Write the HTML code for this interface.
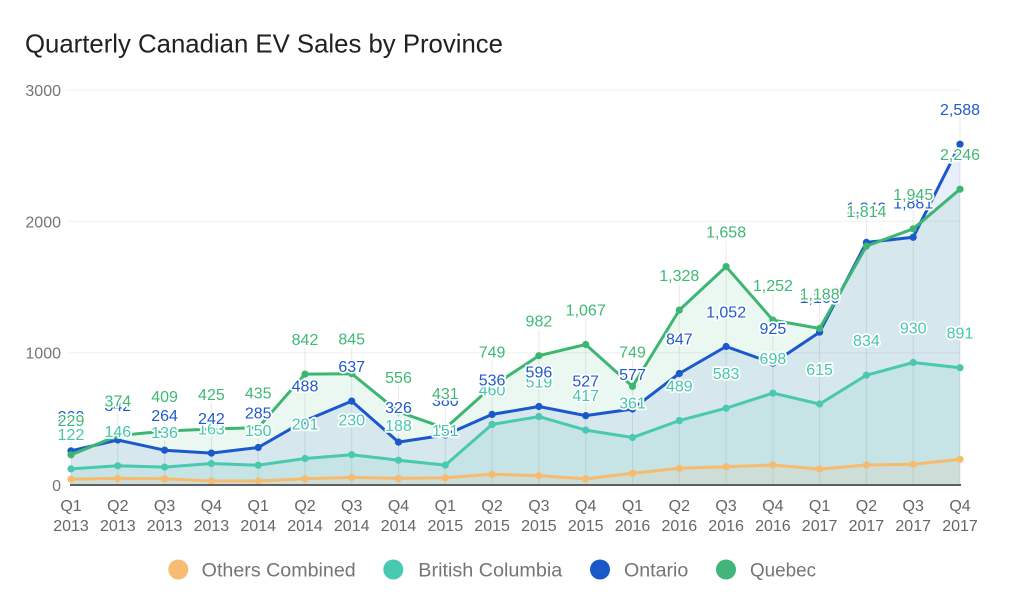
<!DOCTYPE html>
<html><head><meta charset="utf-8"><style>
html,body{margin:0;padding:0;background:#fff;}
svg{display:block;}
text{font-family:"Liberation Sans",Arial,sans-serif;}
.ax{font-size:16px;fill:#757575;}
.xl{font-size:16px;fill:#666;text-anchor:middle;}
.lb{font-size:16px;text-anchor:middle;stroke:#fff;stroke-width:3.5px;paint-order:stroke;stroke-linejoin:round;}
.bc{fill:#45c7ad;} .on{fill:#1f5bcc;} .qc{fill:#3fb873;}
.lg{font-size:19px;fill:#757575;}
</style></head><body>
<svg width="1024" height="616" viewBox="0 0 1024 616" xmlns="http://www.w3.org/2000/svg">
<defs>
<marker id="mq" markerUnits="userSpaceOnUse" markerWidth="10" markerHeight="10" refX="5" refY="5"><circle cx="5" cy="5" r="3.6" fill="#3db673"/></marker>
<marker id="mo" markerUnits="userSpaceOnUse" markerWidth="10" markerHeight="10" refX="5" refY="5"><circle cx="5" cy="5" r="3.6" fill="#1a58cc"/></marker>
<marker id="mb" markerUnits="userSpaceOnUse" markerWidth="10" markerHeight="10" refX="5" refY="5"><circle cx="5" cy="5" r="3.6" fill="#48c9b0"/></marker>
<marker id="mx" markerUnits="userSpaceOnUse" markerWidth="10" markerHeight="10" refX="5" refY="5"><circle cx="5" cy="5" r="3.6" fill="#f6bb6f"/></marker>
</defs>
<rect width="1024" height="616" fill="#fff"/>
<text x="25" y="52.7" font-size="26" fill="#212121" textLength="478" lengthAdjust="spacingAndGlyphs">Quarterly Canadian EV Sales by Province</text>

<!-- grid -->
<g stroke="#f0f0f0" stroke-width="1">
<line x1="68" y1="90" x2="961" y2="90"/>
<line x1="68" y1="221.3" x2="961" y2="221.3"/>
<line x1="68" y1="352.7" x2="961" y2="352.7"/>
</g>
<g class="ax" text-anchor="end">
<text x="61" y="96">3000</text>
<text x="61" y="227.3">2000</text>
<text x="61" y="358.7">1000</text>
<text x="61" y="491">0</text>
</g>

<!-- leader lines -->
<g stroke="#000" stroke-opacity="0.09" stroke-width="1">
<line x1="71" y1="425" x2="71" y2="485"/>
<line x1="117.8" y1="410" x2="117.8" y2="485"/>
<line x1="164.6" y1="405" x2="164.6" y2="485"/>
<line x1="211.4" y1="403" x2="211.4" y2="485"/>
<line x1="258.2" y1="402" x2="258.2" y2="485"/>
<line x1="305" y1="348" x2="305" y2="485"/>
<line x1="351.7" y1="348" x2="351.7" y2="485"/>
<line x1="398.5" y1="386" x2="398.5" y2="485"/>
<line x1="445.3" y1="402" x2="445.3" y2="485"/>
<line x1="492.1" y1="360" x2="492.1" y2="485"/>
<line x1="538.9" y1="330" x2="538.9" y2="485"/>
<line x1="585.7" y1="319" x2="585.7" y2="485"/>
<line x1="632.5" y1="360" x2="632.5" y2="485"/>
<line x1="679.3" y1="284" x2="679.3" y2="485"/>
<line x1="726.1" y1="241" x2="726.1" y2="485"/>
<line x1="772.9" y1="294" x2="772.9" y2="485"/>
<line x1="819.6" y1="303" x2="819.6" y2="485"/>
<line x1="866.4" y1="217" x2="866.4" y2="485"/>
<line x1="913.2" y1="203" x2="913.2" y2="485"/>
<line x1="960" y1="118" x2="960" y2="485"/>
</g>

<!-- areas -->
<polygon fill="#3db673" fill-opacity="0.1" points="71,454.8 117.8,435.7 164.6,431.1 211.4,429.0 258.2,427.7 305.0,374.1 351.7,373.7 398.5,411.8 445.3,428.2 492.1,386.4 538.9,355.7 585.7,344.5 632.5,386.4 679.3,310.1 726.1,266.6 772.9,320.1 819.6,328.5 866.4,246.1 913.2,228.8 960,189.2 960,485 71,485"/>
<polygon fill="#1a58cc" fill-opacity="0.1" points="71,450.8 117.8,440.0 164.6,450.2 211.4,453.1 258.2,447.5 305.0,420.7 351.7,401.1 398.5,442.1 445.3,435.0 492.1,414.4 538.9,406.5 585.7,415.6 632.5,409.0 679.3,373.5 726.1,346.5 772.9,363.2 819.6,332.2 866.4,242.4 913.2,237.3 960,144.2 960,485 71,485"/>
<polygon fill="#48c9b0" fill-opacity="0.11" points="71,468.9 117.8,465.8 164.6,467.1 211.4,463.5 258.2,465.2 305.0,458.5 351.7,454.7 398.5,460.2 445.3,465.1 492.1,424.4 538.9,416.6 585.7,430.1 632.5,437.5 679.3,420.6 726.1,408.2 772.9,393.1 819.6,404.0 866.4,375.2 913.2,362.5 960,367.7 960,485 71,485"/>
<polygon fill="#f6bb6f" fill-opacity="0.12" points="71,479.1 117.8,478.4 164.6,478.7 211.4,481.0 258.2,481.0 305.0,478.7 351.7,477.4 398.5,478.4 445.3,477.8 492.1,474.3 538.9,475.6 585.7,478.9 632.5,473.3 679.3,468.3 726.1,466.7 772.9,465.0 819.6,469.1 866.4,465.0 913.2,464.3 960,459.3 960,485 71,485"/>

<!-- lines -->
<g fill="none" stroke-width="3" stroke-linejoin="round" stroke-linecap="round">
<polyline stroke="#f6bb6f" marker-start="url(#mx)" marker-mid="url(#mx)" marker-end="url(#mx)" points="71,479.1 117.8,478.4 164.6,478.7 211.4,481.0 258.2,481.0 305.0,478.7 351.7,477.4 398.5,478.4 445.3,477.8 492.1,474.3 538.9,475.6 585.7,478.9 632.5,473.3 679.3,468.3 726.1,466.7 772.9,465.0 819.6,469.1 866.4,465.0 913.2,464.3 960,459.3"/>
<polyline stroke="#48c9b0" marker-start="url(#mb)" marker-mid="url(#mb)" marker-end="url(#mb)" points="71,468.9 117.8,465.8 164.6,467.1 211.4,463.5 258.2,465.2 305.0,458.5 351.7,454.7 398.5,460.2 445.3,465.1 492.1,424.4 538.9,416.6 585.7,430.1 632.5,437.5 679.3,420.6 726.1,408.2 772.9,393.1 819.6,404.0 866.4,375.2 913.2,362.5 960,367.7"/>
<polyline stroke="#1a58cc" marker-start="url(#mo)" marker-mid="url(#mo)" marker-end="url(#mo)" points="71,450.8 117.8,440.0 164.6,450.2 211.4,453.1 258.2,447.5 305.0,420.7 351.7,401.1 398.5,442.1 445.3,435.0 492.1,414.4 538.9,406.5 585.7,415.6 632.5,409.0 679.3,373.5 726.1,346.5 772.9,363.2 819.6,332.2 866.4,242.4 913.2,237.3 960,144.2"/>
<polyline stroke="#3db673" marker-start="url(#mq)" marker-mid="url(#mq)" marker-end="url(#mq)" points="71,454.8 117.8,435.7 164.6,431.1 211.4,429.0 258.2,427.7 305.0,374.1 351.7,373.7 398.5,411.8 445.3,428.2 492.1,386.4 538.9,355.7 585.7,344.5 632.5,386.4 679.3,310.1 726.1,266.6 772.9,320.1 819.6,328.5 866.4,246.1 913.2,228.8 960,189.2"/>
</g>

<!-- baseline -->
<line x1="70" y1="485" x2="961" y2="485" stroke="#5f5f5f" stroke-width="2"/>

<!-- BC labels -->
<g class="lb bc">
<text x="71" y="439.9">122</text>
<text x="117.8" y="436.8">146</text>
<text x="164.6" y="438.1">136</text>
<text x="211.4" y="434.5">163</text>
<text x="258.2" y="436.2">150</text>
<text x="305" y="429.5">201</text>
<text x="351.7" y="425.7">230</text>
<text x="398.5" y="431.2">188</text>
<text x="445.3" y="436.1">151</text>
<text x="492.1" y="395.4">460</text>
<text x="538.9" y="387.6">519</text>
<text x="585.7" y="401.1">417</text>
<text x="632.5" y="408.5">361</text>
<text x="679.3" y="391.6">489</text>
<text x="726.1" y="379.2">583</text>
<text x="772.9" y="364.1">698</text>
<text x="819.6" y="375">615</text>
<text x="866.4" y="346.2">834</text>
<text x="913.2" y="333.5">930</text>
<text x="960" y="338.7">891</text>
</g>
<!-- Ontario labels -->
<g class="lb on">
<text x="71" y="421.8">260</text>
<text x="117.8" y="411">342</text>
<text x="164.6" y="421.2">264</text>
<text x="211.4" y="424.1">242</text>
<text x="258.2" y="418.5">285</text>
<text x="305" y="391.7">488</text>
<text x="351.7" y="372.1">637</text>
<text x="398.5" y="413.1">326</text>
<text x="445.3" y="406">380</text>
<text x="492.1" y="385.4">536</text>
<text x="538.9" y="377.5">596</text>
<text x="585.7" y="386.6">527</text>
<text x="632.5" y="380">577</text>
<text x="679.3" y="344.5">847</text>
<text x="726.1" y="317.5">1,052</text>
<text x="772.9" y="334.2">925</text>
<text x="819.6" y="303.2">1,160</text>
<text x="866.4" y="213.4">1,842</text>
<text x="913.2" y="208.3">1,881</text>
<text x="960" y="115.2">2,588</text>
</g>
<!-- Quebec labels -->
<g class="lb qc">
<text x="71" y="425.8">229</text>
<text x="117.8" y="406.7">374</text>
<text x="164.6" y="402.1">409</text>
<text x="211.4" y="400">425</text>
<text x="258.2" y="398.7">435</text>
<text x="305" y="345.1">842</text>
<text x="351.7" y="344.7">845</text>
<text x="398.5" y="382.8">556</text>
<text x="445.3" y="399.2">431</text>
<text x="492.1" y="357.4">749</text>
<text x="538.9" y="326.7">982</text>
<text x="585.7" y="315.5">1,067</text>
<text x="632.5" y="357.4">749</text>
<text x="679.3" y="281.1">1,328</text>
<text x="726.1" y="237.6">1,658</text>
<text x="772.9" y="291.1">1,252</text>
<text x="819.6" y="299.5">1,188</text>
<text x="866.4" y="217.1">1,814</text>
<text x="913.2" y="199.8">1,945</text>
<text x="960" y="160.2">2,246</text>
</g>

<!-- x labels -->
<g class="xl">
<text x="71" y="511">Q1</text><text x="71" y="531">2013</text>
<text x="117.8" y="511">Q2</text><text x="117.8" y="531">2013</text>
<text x="164.6" y="511">Q3</text><text x="164.6" y="531">2013</text>
<text x="211.4" y="511">Q4</text><text x="211.4" y="531">2013</text>
<text x="258.2" y="511">Q1</text><text x="258.2" y="531">2014</text>
<text x="305" y="511">Q2</text><text x="305" y="531">2014</text>
<text x="351.7" y="511">Q3</text><text x="351.7" y="531">2014</text>
<text x="398.5" y="511">Q4</text><text x="398.5" y="531">2014</text>
<text x="445.3" y="511">Q1</text><text x="445.3" y="531">2015</text>
<text x="492.1" y="511">Q2</text><text x="492.1" y="531">2015</text>
<text x="538.9" y="511">Q3</text><text x="538.9" y="531">2015</text>
<text x="585.7" y="511">Q4</text><text x="585.7" y="531">2015</text>
<text x="632.5" y="511">Q1</text><text x="632.5" y="531">2016</text>
<text x="679.3" y="511">Q2</text><text x="679.3" y="531">2016</text>
<text x="726.1" y="511">Q3</text><text x="726.1" y="531">2016</text>
<text x="772.9" y="511">Q4</text><text x="772.9" y="531">2016</text>
<text x="819.6" y="511">Q1</text><text x="819.6" y="531">2017</text>
<text x="866.4" y="511">Q2</text><text x="866.4" y="531">2017</text>
<text x="913.2" y="511">Q3</text><text x="913.2" y="531">2017</text>
<text x="960" y="511">Q4</text><text x="960" y="531">2017</text>
</g>

<!-- legend -->
<circle cx="178.3" cy="569.5" r="10" fill="#f6bd72"/>
<text class="lg" x="201.7" y="576.5" textLength="154" lengthAdjust="spacingAndGlyphs">Others Combined</text>
<circle cx="393.3" cy="569.5" r="10" fill="#48c9b2"/>
<text class="lg" x="418.3" y="576.5" textLength="144" lengthAdjust="spacingAndGlyphs">British Columbia</text>
<circle cx="600" cy="569.5" r="10" fill="#1858c8"/>
<text class="lg" x="624" y="576.5" textLength="64.3" lengthAdjust="spacingAndGlyphs">Ontario</text>
<circle cx="726" cy="569.5" r="10" fill="#42b67a"/>
<text class="lg" x="750" y="576.5" textLength="66" lengthAdjust="spacingAndGlyphs">Quebec</text>
</svg>
</body></html>
